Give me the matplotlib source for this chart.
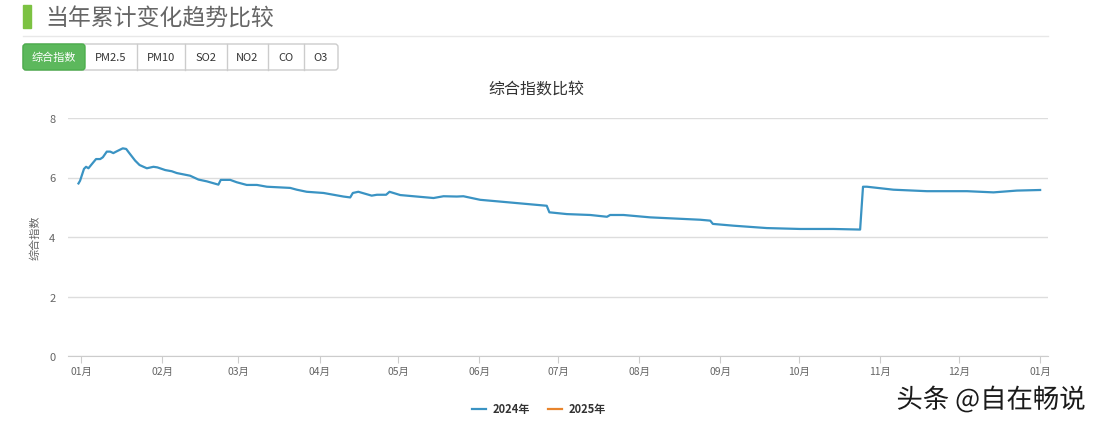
import matplotlib
matplotlib.use("Agg")
import matplotlib.pyplot as plt
from matplotlib.patches import Rectangle, FancyBboxPatch
import matplotlib.patheffects as pe

plt.rcParams['font.family'] = ['Noto Sans CJK SC', 'DejaVu Sans']

# 数据：日序号(1月1日=0) 与 综合指数
days_2024 = [-1, -0.4, 1.1, 1.9, 2.8, 4.1, 5.7, 7.3, 8.3, 9.8, 11.1, 12.3, 13.6, 15.9, 17.2,
             18.4, 20.6, 22.3, 23.8, 25.1, 27.6, 29.1, 32.1, 34.6, 36.5, 41.6, 44.8, 48.0,
             52.4, 53.3, 56.9, 59.4, 63.2, 67.1, 70.9, 79.8, 82.3, 86.1, 92.5, 100.1, 102.7,
             103.7, 105.8, 110.9, 112.9, 116.4, 117.7, 121.8, 128.1, 134.5, 138.3, 143.4,
             145.9, 152.3, 158.7, 166.3, 172.6, 177.7, 178.7, 185.4, 194.3, 200.7, 201.9,
             207.0, 217.2, 236.3, 240.1, 241.1, 249.0, 261.7, 274.4, 287.1, 297.3, 298.4,
             299.9, 310.0, 322.8, 338.1, 348.2, 357.1, 366.0]
vals_2024 = [5.80, 5.89, 6.29, 6.36, 6.31, 6.45, 6.62, 6.62, 6.68, 6.87, 6.87, 6.82, 6.88, 6.98, 6.96,
             6.82, 6.57, 6.42, 6.36, 6.31, 6.36, 6.34, 6.25, 6.21, 6.15, 6.06, 5.93, 5.87,
             5.76, 5.92, 5.92, 5.84, 5.75, 5.75, 5.69, 5.65, 5.59, 5.52, 5.48, 5.36, 5.33,
             5.48, 5.52, 5.39, 5.42, 5.42, 5.52, 5.41, 5.36, 5.31, 5.37, 5.36,
             5.37, 5.25, 5.20, 5.14, 5.09, 5.05, 4.83, 4.77, 4.74, 4.68, 4.74,
             4.74, 4.66, 4.58, 4.55, 4.44, 4.38, 4.30, 4.27, 4.27, 4.25, 5.69,
             5.69, 5.59, 5.54, 5.54, 5.50, 5.56, 5.58]
days_2025 = []
vals_2025 = []

month_pos = [0, 31, 60, 91, 121, 152, 182, 213, 244, 274, 305, 335, 366]
month_labels = ['01月', '02月', '03月', '04月', '05月', '06月', '07月', '08月',
                '09月', '10月', '11月', '12月', '01月']
tabs = ['综合指数', 'PM2.5', 'PM10', 'SO2', 'NO2', 'CO', 'O3']
tab_edges = [23, 85, 137, 185, 227, 268, 304, 338]

W, H = 1106, 427
fig = plt.figure(figsize=(W / 100, H / 100), dpi=100)

# 页面装饰层（像素坐标）
deco = fig.add_axes([0, 0, 1, 1])
deco.set_xlim(0, W)
deco.set_ylim(H, 0)
deco.axis('off')
deco.add_patch(Rectangle((23, 6), 8, 23, color='#7cc242'))
deco.text(45, 19, '当年累计变化趋势比较', fontsize=16.5, color='#666666', va='center', ha='left')
deco.plot([23, 1048], [37, 37], color='#e8e8e8', lw=1)

deco.add_patch(FancyBboxPatch((23, 45), 315, 26, boxstyle='round,pad=0,rounding_size=3',
                              fc='white', ec='#cccccc', lw=1))
deco.add_patch(FancyBboxPatch((23, 45), 62, 26, boxstyle='round,pad=0,rounding_size=3',
                              fc='#5cb85c', ec='#4cae4c', lw=1))
for i, t in enumerate(tabs):
    x0, x1 = tab_edges[i], tab_edges[i + 1]
    if i > 1:
        deco.plot([x0, x0], [45, 71], color='#cccccc', lw=1)
    deco.text((x0 + x1) / 2, 58, t, fontsize=8, ha='center', va='center',
              color='white' if i == 0 else '#333333')

deco.text(536, 89, '综合指数比较', fontsize=11.5, color='#333333', ha='center', va='center')

wm = deco.text(991, 401, '头条 @自在畅说', fontsize=19, color='#1a1a1a', ha='center', va='center',
               fontweight='medium')
wm.set_path_effects([pe.withStroke(linewidth=2, foreground='white')])

# 主图
ax = fig.add_axes([68 / W, 1 - 357 / H, (1048 - 68) / W, (357 - 119) / H])
line24, = ax.plot(days_2024, vals_2024, color='#3a93c3', lw=1.6, label='2024年')
line25, = ax.plot(days_2025, vals_2025, color='#e8842c', lw=1.6, label='2025年')
ax.set_xlim(-5, 369)
ax.set_ylim(0, 8)
ax.set_yticks([0, 2, 4, 6, 8])
ax.set_xticks(month_pos)
ax.set_xticklabels(month_labels)
ax.tick_params(axis='y', length=0, labelsize=8, labelcolor='#666666', pad=9)
ax.tick_params(axis='x', length=5, color='#cccccc', labelsize=7.5, labelcolor='#666666', pad=2)
ax.grid(axis='y', color='#dddddd', lw=1)
ax.set_axisbelow(True)
for s in ['top', 'right', 'left']:
    ax.spines[s].set_visible(False)
ax.spines['bottom'].set_color('#cccccc')
ax.spines['bottom'].set_zorder(0)
ax.set_ylabel('综合指数', fontsize=8, color='#666666', labelpad=6)

fig.legend(handles=[line24, line25], loc='center', bbox_to_anchor=(539 / W, 1 - 410 / H),
           ncol=2, frameon=False, handlelength=1.3, columnspacing=1.6, handletextpad=0.6,
           prop={'size': 8, 'weight': 'bold'}, labelcolor='#333333')

fig.savefig('out.png', dpi=100)
